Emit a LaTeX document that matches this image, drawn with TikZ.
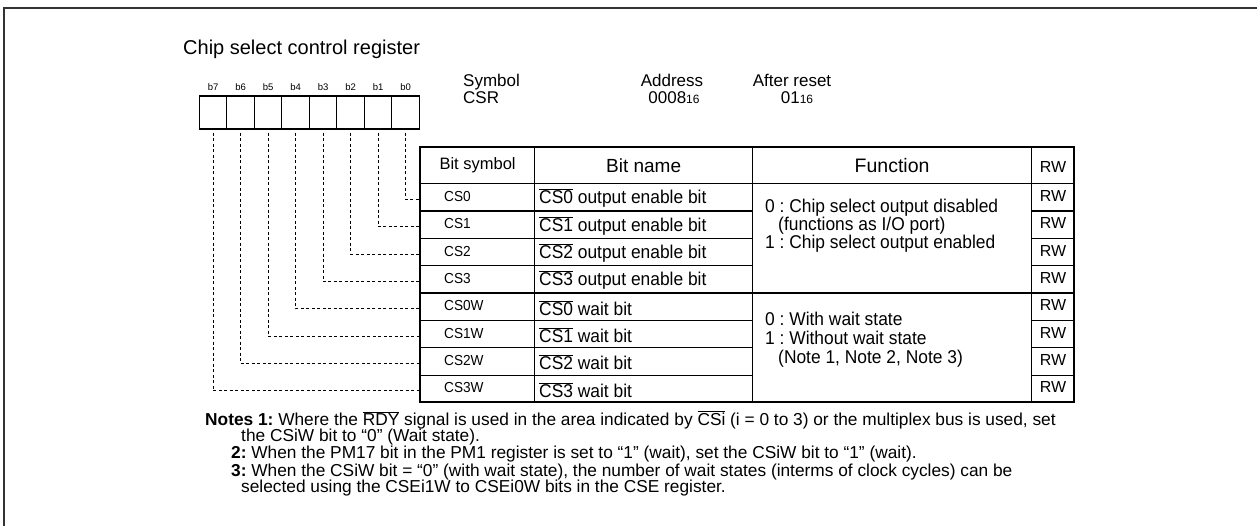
\documentclass[tikz,border=0pt]{standalone}
\usepackage{fontspec}
\setmainfont{Liberation Sans}
\newfontfamily\narrowfont[FakeStretch=0.94]{Liberation Sans}
\newcommand\ovl[1]{\ensuremath{\overline{\hbox{#1}}}}
\newcommand\fsz[1]{\fontsize{#1}{#1}\selectfont}
\frenchspacing
\begin{document}
\frenchspacing
\begin{tikzpicture}[x=1pt,y=-1pt,
  bitbox/.style={draw, line width=1.2pt, minimum width=27.5pt, minimum height=33pt, inner sep=0pt},
  cellbox/.style={draw, line width=1.2pt, inner sep=0pt, anchor=north west},
  conn/.style={line width=0.9pt, dash pattern=on 3pt off 2.5pt},
  bitlab/.style={anchor=base, font=\fsz{9.5}, inner sep=0pt},
  hdr/.style={anchor=base west, font=\fsz{17}, inner sep=0pt},
  headtxt/.style={font=\fsz{16.5}, inner sep=0pt},
  symtxt/.style={anchor=west, font=\narrowfont\fsz{14.5}, inner sep=0pt},
  nametxt/.style={anchor=west, font=\narrowfont\fsz{18.5}, inner sep=0pt},
  functxt/.style={anchor=base west, font=\narrowfont\fsz{18.5}, inner sep=0pt},
  rwtxt/.style={font=\fsz{16}, inner sep=0pt},
  notetxt/.style={anchor=base west, font=\fsz{17.3}, inner sep=0pt}]
\useasboundingbox (0,0) rectangle (1257,526);
\draw[line width=2.5pt, black!80] (4,526) -- (4,8) -- (1257,8);

\node[anchor=base west, font=\fsz{20}, inner sep=0pt] (title) at (183,55) {Chip select control register};

% bit boxes
\foreach \i in {0,...,7}{
  \node[bitbox] (b\i) at ({405.6-27.5*\i},112.5) {};
  \node[bitlab] (l\i) at ({405.6-27.5*\i},91) {b\i};
}

\node[hdr] (sym) at (463,87) {Symbol};
\node[hdr] (csr) at (463,104) {CSR};
\node[hdr, anchor=base] (addr) at (672,87) {Address};
\node[hdr, anchor=base] (addrv) at (674,104) {0008{\fsz{12}16}};
\node[hdr, anchor=base] (rst) at (792,87) {After reset};
\node[hdr, anchor=base] (rstv) at (797,104) {01{\fsz{12}16}};

% header row
\node[cellbox, minimum width=114pt, minimum height=36pt] (h1) at (420,147) {};
\node[cellbox, minimum width=218pt, minimum height=36pt] (h2) at (534,147) {};
\node[cellbox, minimum width=279pt, minimum height=36pt] (h3) at (752,147) {};
\node[cellbox, minimum width=43pt, minimum height=36pt] (h4) at (1031,147) {};
\node[headtxt] at (h1.center) {Bit symbol};
\node[headtxt, font=\fsz{19}] at (h2.center) {Bit name};
\node[headtxt, font=\fsz{19.5}] at (h3.center) {Function};
\node[rwtxt] at ([yshift=-1pt]h4.center) {RW};

% rows
\foreach \r/\s/\n in {0/CS0/{\ovl{CS0} output enable bit},1/CS1/{\ovl{CS1} output enable bit},2/CS2/{\ovl{CS2} output enable bit},3/CS3/{\ovl{CS3} output enable bit},4/CS0W/{\ovl{CS0} wait bit},5/CS1W/{\ovl{CS1} wait bit},6/CS2W/{\ovl{CS2} wait bit},7/CS3W/{\ovl{CS3} wait bit}}{
  \node[cellbox, minimum width=114pt, minimum height=27.375pt] (s\r) at (420,{183+27.375*\r}) {};
  \node[cellbox, minimum width=218pt, minimum height=27.375pt] (n\r) at (534,{183+27.375*\r}) {};
  \node[cellbox, minimum width=43pt, minimum height=27.375pt] (rw\r) at (1031,{183+27.375*\r}) {};
  \node[symtxt] at ([xshift=24pt,yshift=1pt]s\r.west) {\s};
  \node[nametxt] at ([xshift=5pt,yshift=-1pt]n\r.west) {\n};
  \node[rwtxt] at ([yshift=1.5pt]rw\r.center) {RW};
}
\node[cellbox, minimum width=279pt, minimum height=109.5pt] (f1) at (752,183) {};
\node[cellbox, minimum width=279pt, minimum height=109.5pt] (f2) at (752,292.5) {};
\draw[line width=1.6pt] (420,147) rectangle (1074,402);
\draw[line width=1.6pt] (420,292.5) -- (1074,292.5);

\node[functxt] at (765,213) {0 : Chip select output disabled};
\node[functxt] at (778,231) {(functions as I/O port)};
\node[functxt] at (765,249) {1 : Chip select output enabled};
\node[functxt] at (765,325) {0 : With wait state};
\node[functxt] at (765,344) {1 : Without wait state};
\node[functxt] at (778,363) {(Note 1, Note 2, Note 3)};

% connectors
\foreach \i in {0,...,7}{
  \draw[conn] ([yshift=-3pt]b\i.south) |- ([yshift=-2pt]s\i.west);
}

% notes
\node[notetxt] (note1) at (205,425) {\textbf{Notes 1:} Where the \ovl{RDY} signal is used in the area indicated by \ovl{CSi} (i = 0 to 3) or the multiplex bus is used, set};
\node[notetxt] (note1b) at (241,441) {the CSiW bit to “0” (Wait state).};
\node[notetxt] (note2) at (231,458) {\textbf{2:} When the PM17 bit in the PM1 register is set to “1” (wait), set the CSiW bit to “1” (wait).};
\node[notetxt] (note3) at (231,476) {\textbf{3:} When the CSiW bit = “0” (with wait state), the number of wait states (interms of clock cycles) can be};
\node[notetxt] (note3b) at (241,492) {selected using the CSEi1W to CSEi0W bits in the CSE register.};
\end{tikzpicture}
\end{document}
